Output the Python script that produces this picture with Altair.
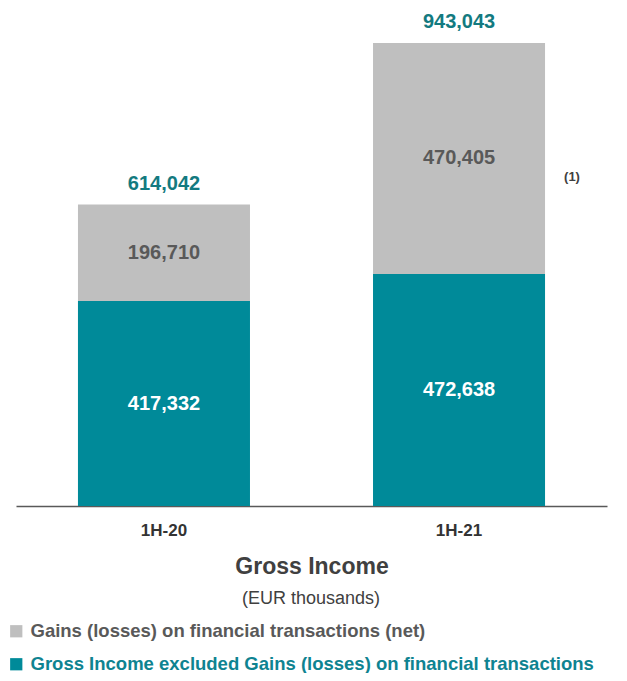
import altair as alt
import pandas as pd

periods = ["1H-20", "1H-21"]
gross_excl = [417332, 472638]
gains = [196710, 470405]
totals = [614042, 943043]
series_names = [
    "Gains (losses) on financial transactions (net)",
    "Gross Income excluded Gains (losses) on financial transactions",
]
series_colors = ["#BFBFBF", "#008A99"]
inner_label_colors = ["#595959", "#FFFFFF"]

rows = []
for i, p in enumerate(periods):
    rows.append({"period": p, "series": series_names[1], "value": gross_excl[i], "order": 0,
                 "start": 0, "end": gross_excl[i], "lblcolor": inner_label_colors[1]})
    rows.append({"period": p, "series": series_names[0], "value": gains[i], "order": 1,
                 "start": gross_excl[i], "end": gross_excl[i] + gains[i], "lblcolor": inner_label_colors[0]})
df = pd.DataFrame(rows)
df["mid"] = (df["start"] + df["end"]) / 2
tot_df = pd.DataFrame({"period": periods, "total": totals})

FONT = "Liberation Sans, Arial"

x_enc = alt.X("period:N", sort=periods,
              scale=alt.Scale(paddingInner=0.417, paddingOuter=0.21),
              axis=alt.Axis(title="Gross Income", labelAngle=0, labelFont=FONT, labelFontSize=17,
                            labelFontWeight="bold", labelColor="#333333", labelPadding=16,
                            ticks=False, domainColor="#595959", domainWidth=1.5,
                            titleFont=FONT, titleFontSize=23, titleFontWeight="bold",
                            titleColor="#404040", titlePadding=17))
y_scale = alt.Scale(domain=[0, 1000000])

bars = alt.Chart(df).mark_bar().encode(
    x=x_enc,
    y=alt.Y("start:Q", scale=y_scale, axis=None),
    y2="end:Q",
    color=alt.Color("series:N", sort=series_names,
                    scale=alt.Scale(domain=series_names, range=series_colors),
                    legend=alt.Legend(title=None, orient="none", legendX=-9, legendY=607,
                                      direction="vertical", symbolType="square", symbolSize=150,
                                      symbolStrokeWidth=0, labelFont=FONT, labelFontSize=18.5,
                                      labelFontWeight="bold", labelLimit=700, rowPadding=14,
                                      labelOffset=5,
                                      labelColor=alt.ExprRef(
                                          "datum.label == 'Gains (losses) on financial transactions (net)' ? '#595959' : '#0E8391'"))),
)

inner = alt.Chart(df).mark_text(font=FONT, fontSize=20, fontWeight="bold").encode(
    x=alt.X("period:N", sort=periods),
    y=alt.Y("mid:Q", scale=y_scale),
    text=alt.Text("value:Q", format=",.0f"),
    color=alt.Color("lblcolor:N", scale=None),
)

tops = alt.Chart(tot_df).mark_text(font=FONT, fontSize=20, fontWeight="bold", color="#137A80",
                                   baseline="bottom", dy=-11).encode(
    x=alt.X("period:N", sort=periods),
    y=alt.Y("total:Q", scale=y_scale),
    text=alt.Text("total:Q", format=",.0f"),
)

note = alt.Chart(pd.DataFrame({"t": ["(1)"]})).mark_text(
    font=FONT, fontSize=13, fontWeight="bold", color="#404040").encode(
    x=alt.value(556), y=alt.value(162), text="t:N")

subtitle = alt.Chart(pd.DataFrame({"t": ["(EUR thousands)"]})).mark_text(
    font=FONT, fontSize=18, color="#404040").encode(
    x=alt.value(295), y=alt.value(584), text="t:N")

chart = alt.layer(bars, inner, tops, note, subtitle).properties(
    width=591, height=491,
    autosize=alt.AutoSizeParams(type="none"),
    padding={"left": 8, "top": 7, "right": 12, "bottom": 167},
).configure_view(stroke=None)

chart.save("out.html", embed_options={"renderer": "svg", "actions": False})
